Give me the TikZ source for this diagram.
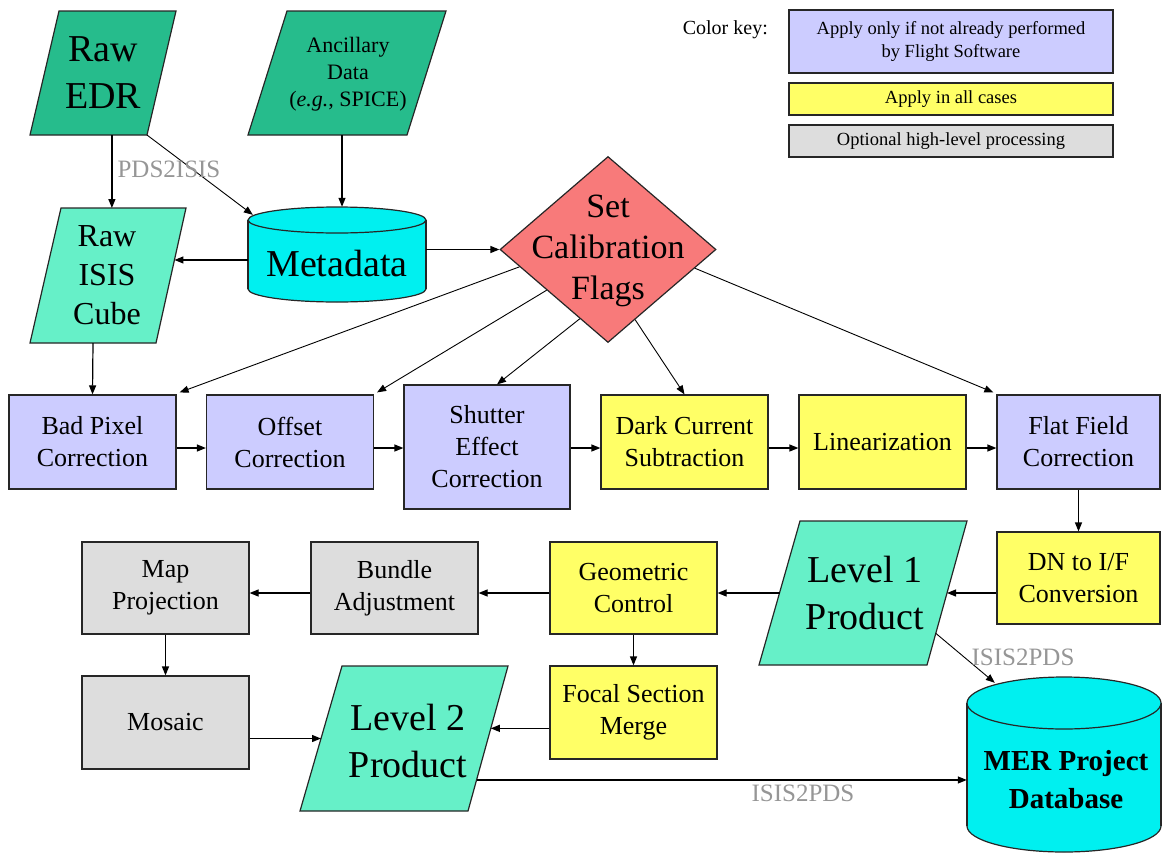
\documentclass[tikz,border=0pt]{standalone}
\usepackage{fontspec}
\setmainfont{Liberation Serif}
\newfontfamily\diagfont{Liberation Serif}
\usetikzlibrary{arrows.meta,shapes.geometric,calc}

\definecolor{dkgreen}{RGB}{38,188,140}
\definecolor{ltgreen}{RGB}{102,240,200}
\definecolor{dbcyan}{RGB}{0,240,240}
\definecolor{flagred}{RGB}{248,122,122}
\definecolor{lavender}{RGB}{204,204,255}
\definecolor{procyellow}{RGB}{255,255,102}
\definecolor{optgray}{RGB}{221,221,221}
\definecolor{labelgray}{RGB}{150,150,150}

\begin{document}
\begin{tikzpicture}[x=1pt,y=-1pt,
  bordered/.style={draw=black!85, line width=1.2pt},
  proc/.style={bordered, rectangle, minimum width=167pt, minimum height=94pt,
    inner sep=0pt, align=center, font=\diagfont\fontsize{26}{32}\selectfont},
  purplebox/.style={proc, fill=lavender},
  yellowbox/.style={proc, fill=procyellow},
  graybox/.style={proc, fill=optgray},
  arr/.style={draw=black, line width=1.2pt, -{Triangle[length=9pt,width=7pt]}},
  diag/.style={arr, line width=0.9pt},
  tool/.style={text=labelgray, font=\diagfont\fontsize{25}{30}\selectfont, inner sep=0pt},
  keybox/.style={bordered, minimum width=324pt, inner sep=0pt, align=center,
    font=\diagfont\fontsize{18.5}{23}\selectfont},
  bigtxt/.style={align=center, inner sep=0pt, font=\diagfont\fontsize{38}{47}\selectfont},
  midtxt/.style={align=center, inner sep=0pt, font=\diagfont\fontsize{32}{39}\selectfont},
  anctxt/.style={align=center, inner sep=0pt, font=\diagfont\fontsize{22}{27}\selectfont},
  ]
\useasboundingbox (0,0) rectangle (1162,854);

% ---------- data parallelograms ----------
% Raw EDR
\coordinate (edr-tl) at (59,11);  \coordinate (edr-tr) at (176,11);
\coordinate (edr-br) at (147,135); \coordinate (edr-bl) at (30,135);
\draw[bordered, fill=dkgreen] (edr-tl) -- (edr-tr) -- (edr-br) -- (edr-bl) -- cycle;
\node[bigtxt] (edr) at (103,73) {Raw\\EDR};

% Ancillary data
\coordinate (anc-tl) at (287,11);  \coordinate (anc-tr) at (446,11);
\coordinate (anc-br) at (407,135); \coordinate (anc-bl) at (248,135);
\draw[bordered, fill=dkgreen] (anc-tl) -- (anc-tr) -- (anc-br) -- (anc-bl) -- cycle;
\node[anctxt] (anc) at (348,74) {Ancillary\\Data\\(\textit{e.g.}, SPICE)};

% Raw ISIS cube
\coordinate (isis-tl) at (61,208);  \coordinate (isis-tr) at (186,208);
\coordinate (isis-br) at (156,343); \coordinate (isis-bl) at (30,343);
\draw[bordered, fill=ltgreen] (isis-tl) -- (isis-tr) -- (isis-br) -- (isis-bl) -- cycle;
\node[midtxt] (isis) at (107,275) {Raw\\ISIS\\Cube};

% Level 1 product
\coordinate (lone-tl) at (800,521); \coordinate (lone-tr) at (967,521);
\coordinate (lone-br) at (927,665); \coordinate (lone-bl) at (759,665);
\draw[bordered, fill=ltgreen] (lone-tl) -- (lone-tr) -- (lone-br) -- (lone-bl) -- cycle;
\node[bigtxt] (lone) at (865,593) {Level 1\\Product};

% Level 2 product
\coordinate (ltwo-tl) at (342,666); \coordinate (ltwo-tr) at (508,666);
\coordinate (ltwo-br) at (468,811); \coordinate (ltwo-bl) at (300,811);
\draw[bordered, fill=ltgreen] (ltwo-tl) -- (ltwo-tr) -- (ltwo-br) -- (ltwo-bl) -- cycle;
\node[bigtxt] (ltwo) at (408,741) {Level 2\\Product};

% ---------- databases ----------
% Metadata
\draw[bordered, fill=dbcyan] (337,289) ellipse [x radius=89pt, y radius=13pt];
\fill[dbcyan] (248,220) rectangle (426,289);
\draw[bordered] (248,220) -- (248,289) (426,220) -- (426,289);
\draw[bordered, fill=dbcyan] (337,220) ellipse [x radius=89pt, y radius=13pt];
\node[inner sep=0pt, minimum width=178pt, minimum height=95pt] (meta) at (337,254.5) {};
\node[bigtxt] (meta-text) at (337,263) {Metadata};

% MER project database
\draw[bordered, fill=dbcyan] (1064,826) ellipse [x radius=97pt, y radius=26pt];
\fill[dbcyan] (967,703) rectangle (1161,826);
\draw[bordered] (967,703) -- (967,826) (1161,703) -- (1161,826);
\draw[bordered, fill=dbcyan] (1064,703) ellipse [x radius=97pt, y radius=26pt];
\node[inner sep=0pt, minimum width=194pt, minimum height=175pt] (mer) at (1064,764.5) {};
\node[align=center, inner sep=0pt, font=\diagfont\fontsize{29}{38}\selectfont\bfseries] (mer-text) at (1066,780) {MER Project\\Database};

% ---------- decision ----------
\node[diamond, bordered, fill=flagred, minimum width=216pt, minimum height=186pt, inner sep=0pt] (flags) at (608,249.5) {};
\node[align=center, inner sep=0pt, font=\diagfont\fontsize{34}{41}\selectfont] (flags-text) at (608,251) {Set\\Calibration\\Flags};

% ---------- calibration chain ----------
\node[purplebox] (bad) at (92.5,442) {Bad Pixel\\Correction};
\node[purplebox] (offset) at (290,442) {Offset\\Correction};
\node[purplebox, minimum height=124pt, minimum width=166pt] (shutter) at (487,447) {Shutter\\Effect\\Correction};
\node[yellowbox] (dark) at (684.5,442) {Dark Current\\Subtraction};
\node[yellowbox] (lin) at (882.5,442) {Linearization};
\node[purplebox, minimum width=163pt] (flat) at (1078.5,442) {Flat Field\\Correction};
\node[yellowbox, minimum width=163pt, minimum height=92pt] (dn) at (1078.5,578) {DN to I/F\\Conversion};

% ---------- high-level processing ----------
\node[yellowbox, minimum height=92pt] (geo) at (633.5,588) {Geometric\\Control};
\node[yellowbox, minimum height=93pt] (focal) at (633.5,712.5) {Focal Section\\Merge};
\node[graybox, minimum height=92pt] (bundle) at (394.5,588) {Bundle\\Adjustment};
\node[graybox, minimum height=92pt] (map) at (165.5,588) {Map\\Projection};
\node[graybox, minimum height=93pt] (mosaic) at (165.5,722.5) {Mosaic};

% ---------- colour key ----------
\node[anchor=east, inner sep=0pt, font=\diagfont\fontsize{20}{24}\selectfont] (keylabel) at (768,30) {Color key:};
\node[keybox, fill=lavender, minimum height=63pt] (key1) at (951,41.5) {Apply only if not already performed\\by Flight Software};
\node[keybox, fill=procyellow, minimum height=32pt] (key2) at (951,99) {Apply in all cases};
\node[keybox, fill=optgray, minimum height=32pt] (key3) at (951,141) {Optional high-level processing};

% ---------- connectors ----------
\coordinate (edr-out) at ($(edr-bl)!0.7!(edr-br)$);
\draw[arr] (edr-out) -- (edr-out |- isis-tl);
\draw[arr, line width=0.9pt] (edr-br) -- ($(meta.north west)+(5,8)$);
\draw[arr] ([xshift=5pt]meta.north |- anc-bl) -- ([xshift=5pt]meta.north);
\coordinate (isis-in) at ($(isis-tr)!0.385!(isis-br)$);
\draw[arr] (meta.west |- isis-in) -- (isis-in);
\draw[arr] (meta.east |- flags.west) -- (flags.west);
\draw[arr] ($(isis-bl)!0.5!(isis-br)$) -- (bad.north);

% flags fan out to the calibration steps
\draw[diag] ($(flags.west)!0.185!(flags.south)$) -- ($(bad.north east)+(3,-2)$);
\draw[diag] ($(flags.west)!0.435!(flags.south)$) -- ($(offset.north east)+(3,-2)$);
\draw[diag] ($(flags.west)!0.74!(flags.south)$) -- ($(shutter.north west)!0.56!(shutter.north east)$);
\draw[diag] ($(flags.south)!0.25!(flags.east)$) -- (dark.north);
\draw[diag] ($(flags.south)!0.8!(flags.east)$) -- ($(flat.north west)+(-3,-2)$);

% calibration chain
\draw[arr] ([yshift=-6pt]bad.east) -- ([yshift=-6pt]bad.east -| offset.west);
\draw[arr] ([yshift=-6pt]offset.east) -- ([yshift=-6pt]offset.east -| shutter.west);
\draw[arr] ([yshift=-6pt]shutter.east |- bad.east) -- ([yshift=-6pt]dark.west);
\draw[arr] ([yshift=-6pt]dark.east) -- ([yshift=-6pt]lin.west);
\draw[arr] ([yshift=-6pt]lin.east) -- ([yshift=-6pt]flat.west);
\draw[arr] (flat.south -| dn.north) -- (dn.north);

% products and high-level steps
\coordinate (lone-r) at ($(lone-tr)!0.5!(lone-br)$);
\coordinate (lone-l) at ($(lone-tl)!0.5!(lone-bl)$);
\draw[arr] (dn.west |- lone-r) -- (lone-r);
\draw[arr] (lone-l) -- (lone-l -| geo.east);
\draw[arr] ([yshift=-5pt]geo.west) -- ([yshift=-5pt]geo.west -| bundle.east);
\draw[arr] ([yshift=-5pt]bundle.west) -- ([yshift=-5pt]bundle.west -| map.east);
\draw[arr] (map.south) -- (mosaic.north);
\draw[arr] (geo.south) -- (focal.north);
\coordinate (ltwo-l) at ($(ltwo-tl)!0.5!(ltwo-bl)$);
\draw[arr] (mosaic.east |- ltwo-l) -- (ltwo-l);
\coordinate (ltwo-r) at ($(ltwo-tr)!0.43!(ltwo-br)$);
\draw[arr] (focal.west |- ltwo-r) -- (ltwo-r);
\coordinate (ltwo-out) at ($(ltwo-tr)!0.786!(ltwo-br)$);
\draw[arr] (ltwo-out) -- (ltwo-out -| mer.west);
\draw[arr, line width=0.9pt] ($(lone-tr)!0.78!(lone-br)$) -- ($(mer.north west)+(28,6)$);

% tool labels
\node[tool] (pds2isis) at (169,169) {PDS2ISIS};
\node[tool] (isis2pds-a) at (1023,657) {ISIS2PDS};
\node[tool] (isis2pds-b) at (803,793) {ISIS2PDS};

\end{tikzpicture}
\end{document}
